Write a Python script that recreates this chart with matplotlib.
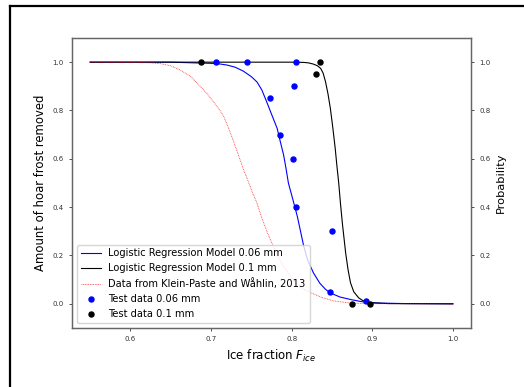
import matplotlib
matplotlib.use("Agg")
import matplotlib.pyplot as plt
from matplotlib.lines import Line2D

# measured test points (ice fraction, amount removed)
TEST_006_X = [0.706, 0.744, 0.805, 0.773, 0.803, 0.786, 0.802, 0.805, 0.850, 0.848, 0.892]
TEST_006_Y = [1.00, 1.00, 1.00, 0.85, 0.90, 0.70, 0.60, 0.40, 0.30, 0.05, 0.01]
TEST_01_X = [0.688, 0.835, 0.830, 0.875, 0.897]
TEST_01_Y = [1.00, 1.00, 0.95, 0.00, 0.00]

# curves
MODEL_006_X = [0.55, 0.65, 0.70, 0.71, 0.72, 0.73, 0.74, 0.75, 0.757, 0.763, 0.769, 0.775,
               0.782, 0.786, 0.790, 0.793, 0.796, 0.8005, 0.804, 0.807, 0.811, 0.815, 0.820,
               0.827, 0.835, 0.842, 0.848, 0.860, 0.873, 0.885, 0.894, 0.91, 0.94, 1.0]
MODEL_006_Y = [1.0, 1.0, 0.995, 0.993, 0.988, 0.979, 0.963, 0.94, 0.918, 0.885, 0.836, 0.785,
               0.726, 0.67, 0.616, 0.56, 0.499, 0.444, 0.40, 0.362, 0.30, 0.238, 0.18,
               0.128, 0.085, 0.06, 0.045, 0.028, 0.018, 0.01, 0.006, 0.003, 0.001, 0.0]
MODEL_01_X = [0.55, 0.70, 0.80, 0.815, 0.821, 0.827, 0.832, 0.836, 0.839, 0.842, 0.845,
              0.848, 0.851, 0.854, 0.856, 0.8584, 0.8605, 0.863, 0.867, 0.870, 0.873,
              0.877, 0.883, 0.888, 0.894, 0.90, 0.92, 1.0]
MODEL_01_Y = [1.0, 1.0, 1.0, 0.999, 0.997, 0.992, 0.985, 0.974, 0.955, 0.919, 0.87,
              0.809, 0.73, 0.644, 0.575, 0.499, 0.417, 0.33, 0.210, 0.14, 0.087,
              0.05, 0.025, 0.014, 0.007, 0.004, 0.001, 0.0]
KP_X = [0.55, 0.60, 0.625, 0.637, 0.65, 0.662, 0.675, 0.687, 0.695, 0.703, 0.71, 0.7155,
        0.722, 0.728, 0.734, 0.740, 0.747, 0.752, 0.757, 0.763, 0.770, 0.777, 0.784,
        0.790, 0.797, 0.804, 0.811, 0.8245, 0.836, 0.852, 0.873, 0.90, 1.0]
KP_Y = [1.0, 0.999, 0.997, 0.994, 0.985, 0.967, 0.94, 0.898, 0.87, 0.836, 0.805, 0.777,
        0.725, 0.671, 0.615, 0.558, 0.499, 0.455, 0.417, 0.355, 0.293, 0.24, 0.19,
        0.155, 0.12, 0.09, 0.067, 0.045, 0.028, 0.012, 0.003, 0.0005, 0.0]

fig = plt.figure(figsize=(5.24, 3.87), dpi=100)
ax = fig.add_axes([0.1374, 0.1525, 0.7615, 0.7493])

l1, = ax.plot(MODEL_006_X, MODEL_006_Y, color="blue", lw=0.8,
              label="Logistic Regression Model 0.06 mm")
l2, = ax.plot(MODEL_01_X, MODEL_01_Y, color="black", lw=0.8,
              label="Logistic Regression Model 0.1 mm")
l3, = ax.plot(KP_X, KP_Y, color="red", lw=0.6, ls=(0, (1, 1)), alpha=0.8,
              label="Data from Klein-Paste and Wåhlin, 2013")
p1, = ax.plot(TEST_006_X, TEST_006_Y, "o", color="blue", ms=3.6,
              label="Test data 0.06 mm")
p2, = ax.plot(TEST_01_X, TEST_01_Y, "o", color="black", ms=3.6,
              label="Test data 0.1 mm")

ax.set_ylim(-0.1, 1.1)
ax.set_xticks([0.6, 0.7, 0.8, 0.9, 1.0])
ax.set_yticks([0.0, 0.2, 0.4, 0.6, 0.8, 1.0])
ax.tick_params(labelsize=5, length=2.5, width=0.6, colors="#333333")
ax.set_xlabel("Ice fraction $F_{ice}$", fontsize=8.5)
ax.set_ylabel("Amount of hoar frost removed", fontsize=8.4)

ax2 = ax.twinx()
ax2.set_ylim(-0.1, 1.1)
ax2.set_yticks([0.0, 0.2, 0.4, 0.6, 0.8, 1.0])
ax2.tick_params(labelsize=5, length=2.5, width=0.6, colors="#333333")
ax2.set_ylabel("Probability", fontsize=8.2)

for a in (ax, ax2):
    for s in a.spines.values():
        s.set_color("#666666")
        s.set_linewidth(0.9)

ax2.legend(handles=[l1, l2, l3, p1, p2], loc="lower left", fontsize=7.1)

# black frame around the figure (left and top edges)
fig.add_artist(Line2D([10 / 524, 10 / 524], [0, 1 - 6 / 387], color="black", lw=1.6,
                      transform=fig.transFigure))
fig.add_artist(Line2D([10 / 524, 1], [1 - 6 / 387, 1 - 6 / 387], color="black", lw=1.6,
                      transform=fig.transFigure))

fig.savefig("out.png", dpi=100)
